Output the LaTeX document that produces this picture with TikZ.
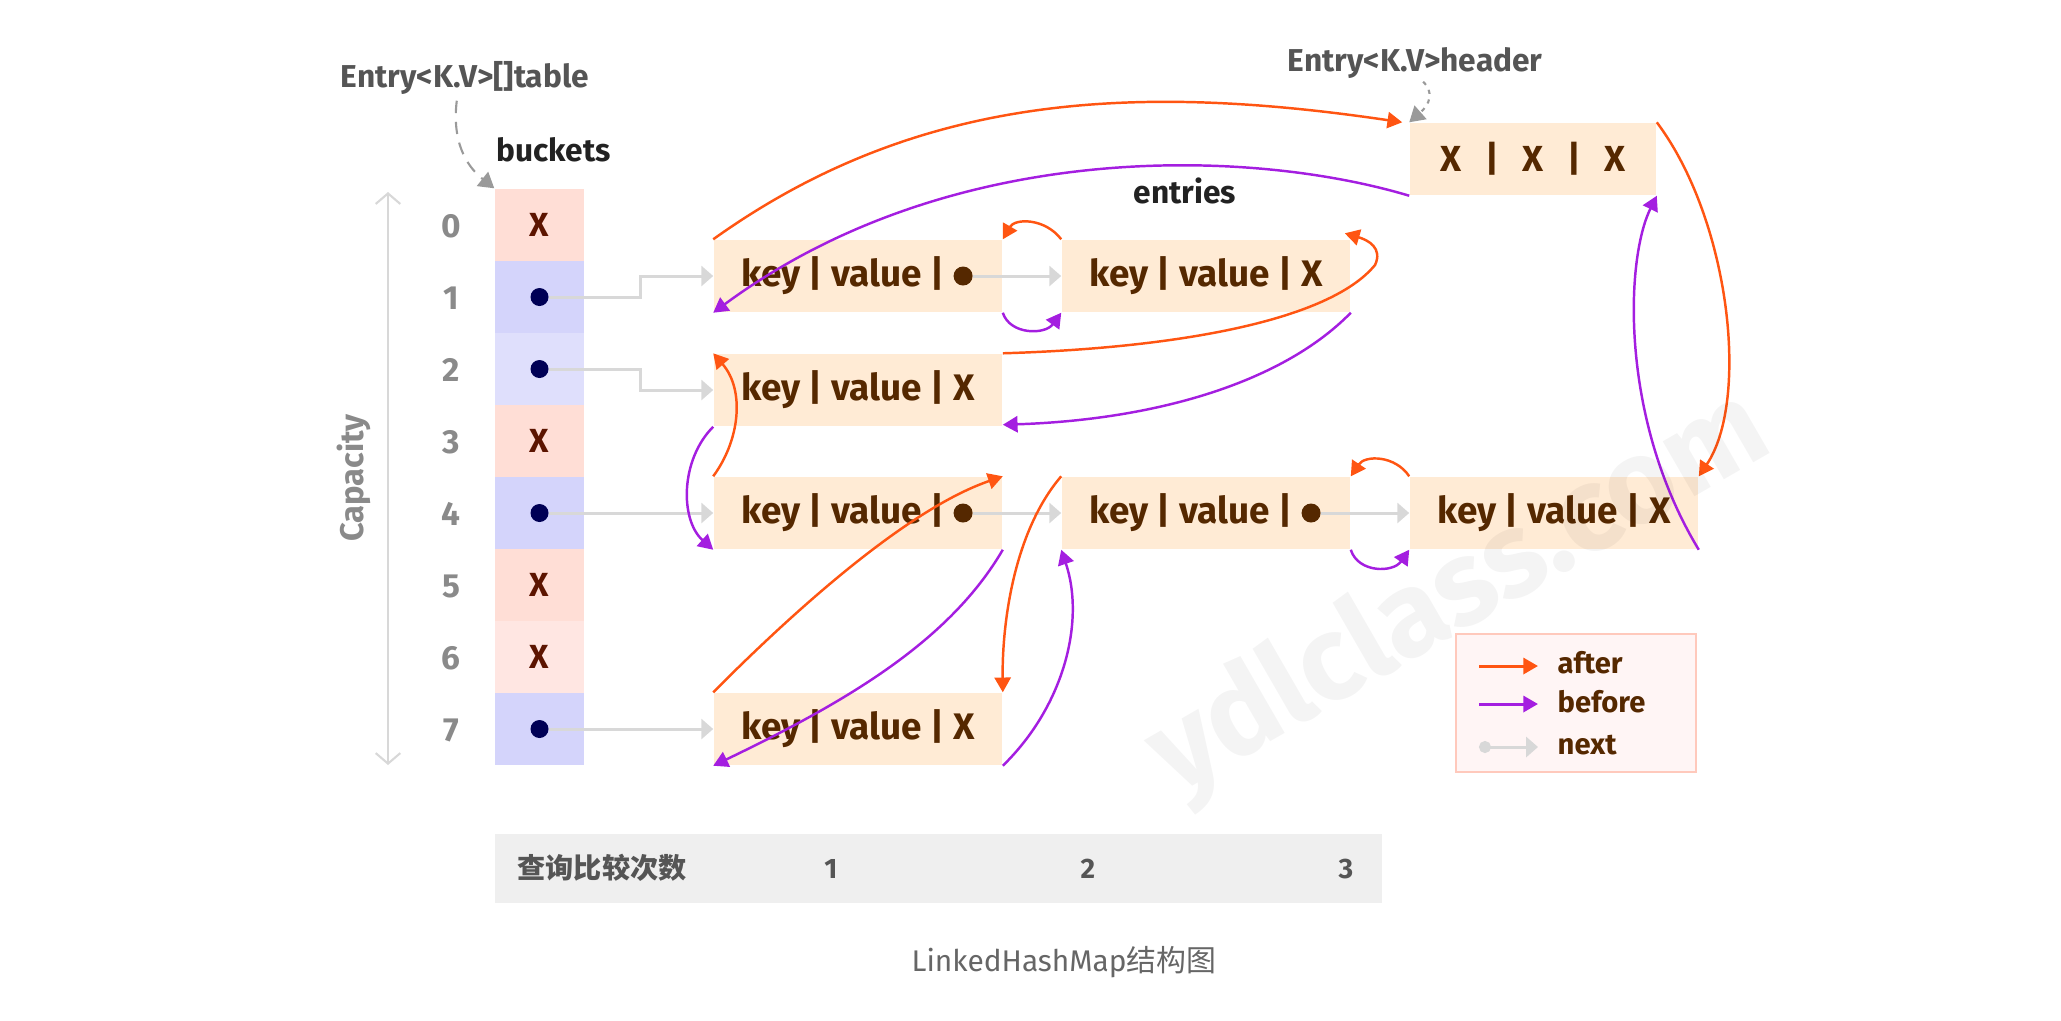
\documentclass[tikz,border=0pt]{standalone}
\usepackage{fontspec}
\setmainfont{Fira Sans}
\newfontfamily\cjk{Noto Sans CJK SC}
\usetikzlibrary{positioning,arrows.meta}

\definecolor{entfill}{HTML}{FFEBD5}
\definecolor{entbrown}{HTML}{552800}
\definecolor{cellred}{HTML}{5C1400}
\definecolor{bkred}{HTML}{FFDED6}
\definecolor{bkredl}{HTML}{FFE6E2}
\definecolor{bkblue}{HTML}{D4D4FB}
\definecolor{bkbluel}{HTML}{DFDFFC}
\definecolor{dotnavy}{HTML}{000055}
\definecolor{aftcol}{HTML}{FF5512}
\definecolor{befcol}{HTML}{A41EE0}
\definecolor{nxtcol}{HTML}{D8D8D8}
\definecolor{ptrgray}{HTML}{9A9A9A}
\definecolor{idxgray}{HTML}{8A8A8A}
\definecolor{lblgray}{HTML}{555555}
\definecolor{lbldark}{HTML}{222222}
\definecolor{legfill}{HTML}{FFF5F5}
\definecolor{legborder}{HTML}{FFC9BC}
\definecolor{barfill}{HTML}{EFEFEF}
\definecolor{capgray}{HTML}{666666}

\begin{document}
\begin{tikzpicture}[x=0.01cm,y=-0.01cm,
    entry/.style={fill=entfill,minimum width=2.88cm,minimum height=0.72cm,inner sep=0pt,
      text=entbrown,font=\fontsize{10.5}{12}\selectfont\bfseries},
    edot/.style={circle,fill=entbrown,minimum size=0.19cm,inner sep=0pt},
    cell/.style={minimum width=0.89cm,minimum height=0.72cm,inner sep=0pt,
      text=cellred,font=\fontsize{9.5}{11}\selectfont\bfseries},
    bdot/.style={circle,fill=dotnavy,minimum size=0.18cm,inner sep=0pt},
    idx/.style={anchor=base,inner sep=0pt,text=idxgray,font=\fontsize{9.5}{11}\selectfont\bfseries},
    toplbl/.style={anchor=base west,inner sep=0pt,text=lblgray,font=\fontsize{9}{11}\selectfont\bfseries},
    darklbl/.style={anchor=base west,inner sep=0pt,text=lbldark,font=\fontsize{9}{11}\selectfont\bfseries},
    legtxt/.style={anchor=base west,inner sep=0pt,text=entbrown,font=\fontsize{8.3}{10}\selectfont\bfseries},
    bartxt/.style={inner sep=0pt,text=lblgray,font=\fontsize{8}{10}\selectfont\bfseries},
    aft/.style={color=aftcol,line width=0.7pt,-{Triangle[length=4.2pt,width=4.6pt]}},
    bef/.style={color=befcol,line width=0.7pt,-{Triangle[length=4.2pt,width=4.6pt]}},
    nxt/.style={color=nxtcol,line width=0.85pt,-{Triangle[length=3.4pt,width=5.7pt]}},
    ptr/.style={color=ptrgray,line width=0.6pt,-{Triangle[length=4.3pt,width=5.1pt]}}]
  \useasboundingbox (0,0) rectangle (2061,1020);

  % buckets
  \foreach \i/\col/\txt in {0/bkred/X,1/bkblue/{},2/bkbluel/{},3/bkred/X,4/bkblue/{},5/bkred/X,6/bkredl/X,7/bkblue/{}}
    \node[cell,fill=\col] (bk\i) at (539.5,{225+72*\i}) {\txt};
  \foreach \i in {0,...,7}
    \node[idx] (ix\i) at (451,{237+72*\i}) {\i};
  \foreach \i in {1,2,4,7}
    \node[bdot] (bd\i) at (bk\i) {};

  \coordinate (capt) at (388,192);
  \coordinate (capb) at (388,765);
  \draw[color=nxtcol,line width=0.6pt,{Straight Barb[length=3pt,width=7pt]}-{Straight Barb[length=3pt,width=7pt]}] (capt) -- (capb);
  \node[rotate=90,text=idxgray,font=\fontsize{9.3}{11}\selectfont\bfseries] (capl) at (354,478) {Capacity};

  % entries
  \node[entry] (e1a) at (858,276) {key | value | \phantom{X}};
  \node[entry] (e1b) at (1206,276) {key | value | X};
  \node[entry] (e2a) at (858,390) {key | value | X};
  \node[entry] (e4a) at (858,513) {key | value | \phantom{X}};
  \node[entry] (e4b) at (1206,513) {key | value | \phantom{X}};
  \node[entry] (e4c) at (1554,513) {key | value | X};
  \node[entry] (e7a) at (858,729) {key | value | X};
  \node[entry,minimum width=2.46cm,font=\fontsize{10.3}{12}\selectfont\bfseries] (hdr) at (1533,159)
    {X\hspace{0.65em}|\hspace{0.65em}X\hspace{0.65em}|\hspace{0.65em}X};
  \node[edot] (e1ad) at ([xshift=1.05cm]e1a.center) {};
  \node[edot] (e4ad) at ([xshift=1.05cm]e4a.center) {};
  \node[edot] (e4bd) at ([xshift=1.05cm]e4b.center) {};

  % labels
  \node[toplbl] (tbl) at (340,87) {Entry<K.V>[]table};
  \node[darklbl] (bkt) at (496,161) {buckets};
  \node[toplbl] (hdrl) at (1287,71) {Entry<K.V>header};
  \node[darklbl] (ents) at (1133,203) {entries};
  \draw[ptr,dash pattern=on 3.5pt off 2.5pt] ([xshift=-0.08cm,yshift=-0.06cm]tbl.south) .. controls (452,140) and (465,165) .. (bk0.north west);
  \draw[ptr,dash pattern=on 1.2pt off 1.6pt] ([xshift=0.08cm,yshift=-0.03cm]hdrl.south) .. controls (1434,92) and (1430,104) .. (hdr.north west);

  % next
  \draw[nxt] (bd1.east) -- ++(91,0) |- (e1a.west);
  \draw[nxt] (bd2.east) -- ++(91,0) |- (e2a.west);
  \draw[nxt] (bd4.east) -- (e4a.west);
  \draw[nxt] (bd7.east) -- (e7a.west);
  \draw[nxt] (e1ad.east) -- (e1b.west);
  \draw[nxt] (e4ad.east) -- (e4b.west);
  \draw[nxt] (e4bd.east) -- (e4c.west);

  % after
  \draw[aft] (e1a.north west) .. controls (915,95) and (1130,82) .. ([xshift=-0.07cm]hdr.north west);
  \draw[aft] (hdr.north east) .. controls (1730,220) and (1750,400) .. (e4c.north east);
  \draw[aft] (e1b.north west) .. controls (1045,218) and (1015,218) .. (e1a.north east);
  \draw[aft] (e2a.north east) .. controls (1180,348) and (1330,320) .. (1375,265)
    .. controls (1383,248) and (1368,240) .. ([xshift=-0.06cm,yshift=0.06cm]e1b.north east);
  \draw[aft] (e4a.north west) .. controls (740,440) and (745,390) .. (e2a.north west);
  \draw[aft] (e7a.north west) .. controls (790,615) and (905,510) .. (e4a.north east);
  \draw[aft] (e4b.north west) .. controls (1015,530) and (1002,620) .. (e7a.north east);
  \draw[aft] (e4c.north west) .. controls (1395,455) and (1365,455) .. (e4b.north east);

  % before
  \draw[bef] (hdr.south west) .. controls (1250,148) and (950,138) .. (e1a.south west);
  \draw[bef] (e1a.south east) .. controls (1010,335) and (1045,335) .. (e1b.south west);
  \draw[bef] (e1b.south east) .. controls (1280,385) and (1150,420) .. ([yshift=0.02cm]e2a.south east);
  \draw[bef] (e2a.south west) .. controls (680,460) and (680,520) .. (e4a.south west);
  \draw[bef] (e4a.south east) .. controls (950,640) and (850,700) .. (e7a.south west);
  \draw[bef] (e7a.south east) .. controls (1065,705) and (1085,620) .. (e4b.south west);
  \draw[bef] (e4b.south east) .. controls (1358,573) and (1393,573) .. (e4c.south west);
  \draw[bef] (e4c.south east) .. controls (1620,420) and (1625,260) .. (hdr.south east);

  % legend
  \node[draw=legborder,fill=legfill,line width=0.77pt,minimum width=2.40cm,minimum height=1.38cm] (leg) at (1576,703) {};
  \node[legtxt] (lgaft) at (1557,673) {after};
  \node[legtxt] (lgbef) at (1557,712) {before};
  \node[legtxt] (lgnxt) at (1557,754) {next};
  \coordinate (la0) at (1479,666);  \coordinate (la1) at (1538,666);
  \coordinate (lb0) at (1479,704);  \coordinate (lb1) at (1538,704);
  \coordinate (ln0) at (1479,747);  \coordinate (ln1) at (1538,747);
  \draw[aft,line width=0.85pt] (la0) -- (la1);
  \draw[bef,line width=0.85pt] (lb0) -- (lb1);
  \draw[nxt,{Circle[length=3.4pt]}-{Triangle[length=3.4pt,width=5.7pt]}] (ln0) -- (ln1);

  % query count
  \node[fill=barfill,minimum width=8.87cm,minimum height=0.69cm,inner sep=0pt] (qbar) at (938.5,868.5) {};
  \node[bartxt,anchor=west] (qtxt) at (517,868) {\cjk\bfseries 查询比较次数};
  \node[bartxt] (q1) at (831,869) {1};
  \node[bartxt] (q2) at (1088,869) {2};
  \node[bartxt] (q3) at (1346,869) {3};

  \node[text=capgray,font=\fontsize{8.5}{10}\selectfont] (cap) at (1064,962) {LinkedHashMap{\cjk 结构图}};

  \node[rotate=30,text=black,opacity=0.045,font=\fontsize{34}{34}\selectfont\bfseries] (wmark) at (1460,595) {ydlclass.com};
\end{tikzpicture}
\end{document}
